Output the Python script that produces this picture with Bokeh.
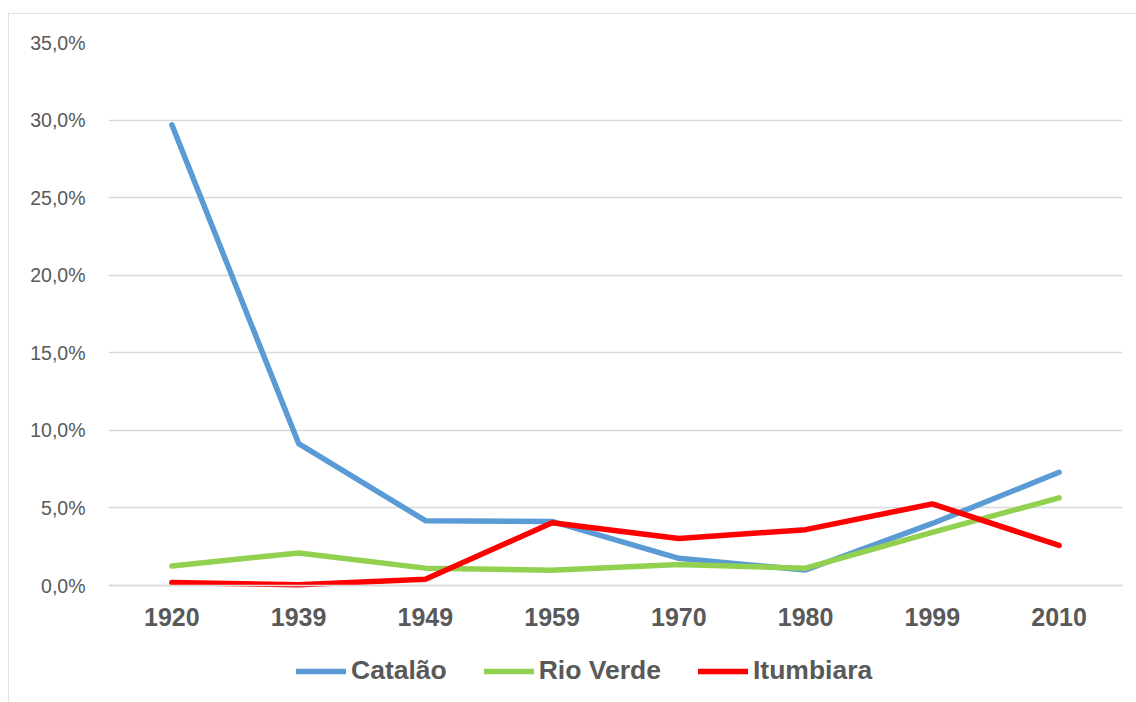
from bokeh.plotting import figure
from bokeh.models import Range1d, FixedTicker, Legend, LegendItem
from bokeh.embed import file_html
from bokeh.resources import INLINE

years = ["1920", "1939", "1949", "1959", "1970", "1980", "1999", "2010"]
catalao = [29.7, 9.15, 4.18, 4.13, 1.75, 1.0, 4.0, 7.3]
rio_verde = [1.25, 2.1, 1.12, 0.98, 1.35, 1.12, 3.43, 5.65]
itumbiara = [0.19, 0.05, 0.41, 4.04, 3.03, 3.6, 5.26, 2.58]
y_ticks = [0, 5, 10, 15, 20, 25, 30, 35]
y_labels = ["0,0%", "5,0%", "10,0%", "15,0%", "20,0%", "25,0%", "30,0%", "35,0%"]

FONT = "Liberation Sans"
TEXT = "#595959"
GRID = "#D9D9D9"

p = figure(x_range=years, y_range=Range1d(-7.09, 35), width=1128, height=689,
           output_backend="svg", toolbar_location=None,
           min_border_left=100, min_border_right=14, min_border_top=29,
           min_border_bottom=7)
p.margin = (13, 0, 0, 8)
p.styles = {"outline": "1.5px solid #D9D9D9", "outline-offset": "-1px"}
p.outline_line_color = None

series = [("Catalão", catalao, "#5B9BD5"),
          ("Rio Verde", rio_verde, "#92D050"),
          ("Itumbiara", itumbiara, "#FF0000")]
items = []
for name, vals, col in series:
    r = p.line(years, vals, line_color=col, line_width=5.5,
               line_cap="round", line_join="round")
    items.append(LegendItem(label=name, renderers=[r]))

p.xgrid.grid_line_color = None
p.ygrid.grid_line_color = GRID
p.ygrid.grid_line_width = 1.3
p.yaxis.ticker = FixedTicker(ticks=y_ticks)
p.yaxis.major_label_overrides = {t: l for t, l in zip(y_ticks, y_labels)}
p.yaxis.axis_line_color = None
p.yaxis.major_tick_line_color = None
p.yaxis.minor_tick_line_color = None
p.yaxis.major_label_text_font = FONT
p.yaxis.major_label_text_font_size = "19.5px"
p.yaxis.major_label_text_color = TEXT
p.yaxis.major_label_standoff = 17

p.xaxis.fixed_location = 0
p.xaxis.axis_line_color = GRID
p.xaxis.axis_line_width = 1.3
p.xaxis.major_tick_line_color = None
p.xaxis.minor_tick_line_color = None
p.xaxis.major_label_text_font = FONT
p.xaxis.major_label_text_font_size = "25px"
p.xaxis.major_label_text_font_style = "bold"
p.xaxis.major_label_text_color = TEXT
p.xaxis.major_label_standoff = 16

legend = Legend(items=items, orientation="horizontal", location=(188, 9),
                glyph_width=50, glyph_height=20, label_standoff=5, spacing=37,
                label_height=20,
                label_text_font=FONT, label_text_font_size="26.5px",
                label_text_font_style="bold", label_text_color=TEXT,
                border_line_color=None, background_fill_alpha=0,
                margin=0, padding=0)
p.add_layout(legend, "center")

open("out.html", "w").write(file_html(p, INLINE))
